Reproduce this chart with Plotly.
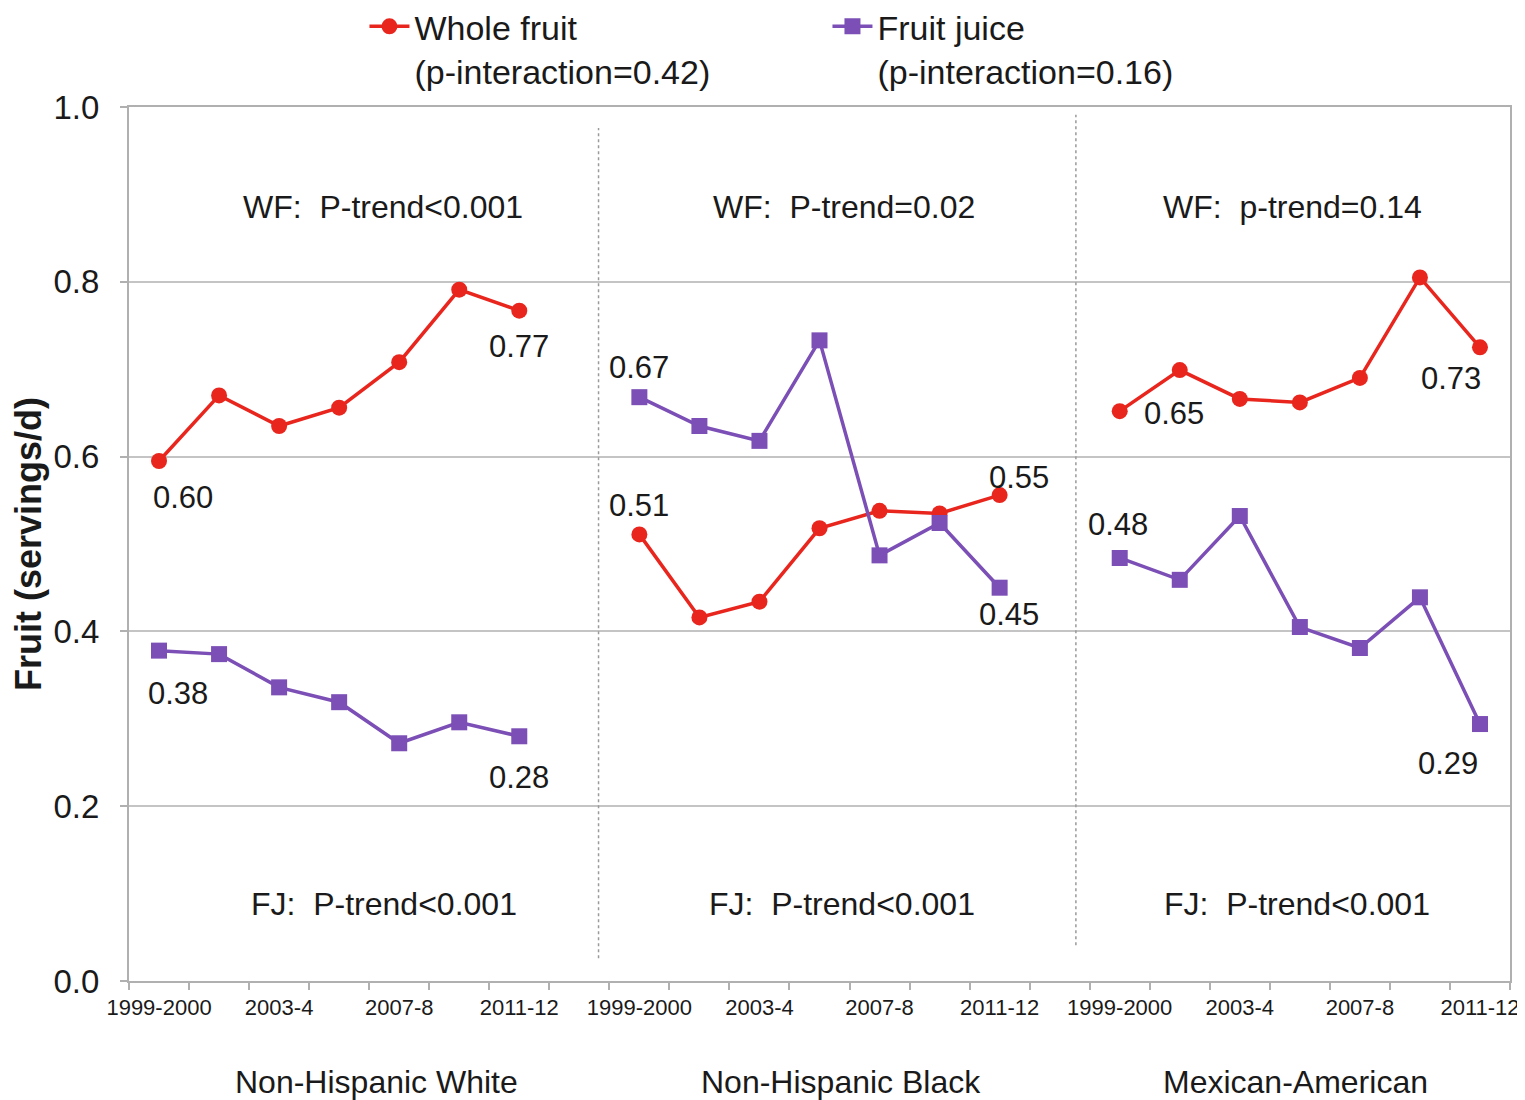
import plotly.graph_objects as go

# ---------------- data ----------------
periods = ["1999-2000", "2001-2", "2003-4", "2005-6", "2007-8", "2009-10", "2011-12"]
groups = ["Non-Hispanic White", "Non-Hispanic Black", "Mexican-American"]

whole_fruit_nhw = [0.595, 0.670, 0.635, 0.656, 0.708, 0.791, 0.767]
whole_fruit_nhb = [0.511, 0.416, 0.434, 0.518, 0.538, 0.535, 0.556]
whole_fruit_ma = [0.652, 0.699, 0.666, 0.662, 0.690, 0.805, 0.725]

fruit_juice_nhw = [0.378, 0.374, 0.336, 0.319, 0.272, 0.296, 0.280]
fruit_juice_nhb = [0.668, 0.635, 0.618, 0.733, 0.487, 0.524, 0.450]
fruit_juice_ma = [0.484, 0.459, 0.532, 0.405, 0.381, 0.439, 0.294]

whole_fruit = [whole_fruit_nhw, whole_fruit_nhb, whole_fruit_ma]
fruit_juice = [fruit_juice_nhw, fruit_juice_nhb, fruit_juice_ma]

# end-point labels (first and last value of each series, per group)
wf_labels = [("0.60", "0.77"), ("0.51", "0.55"), ("0.65", "0.73")]
fj_labels = [("0.38", "0.28"), ("0.67", "0.45"), ("0.48", "0.29")]

wf_trend = ["WF:&nbsp; P-trend&lt;0.001", "WF:&nbsp; P-trend=0.02", "WF:&nbsp; p-trend=0.14"]
fj_trend = ["FJ:&nbsp; P-trend&lt;0.001", "FJ:&nbsp; P-trend&lt;0.001", "FJ:&nbsp; P-trend&lt;0.001"]

tick_periods = ["1999-2000", "2003-4", "2007-8", "2011-12"]

# ---------------- styling ----------------
RED = "#e8261e"
PURPLE = "#7b4fb6"
GRID = "#c4c4c4"
AXIS = "#b0b0b0"
FONT = "Liberation Sans, Arial, sans-serif"
TXT = "#1a1a1a"

STEP = len(periods) + 1  # one empty slot between groups


def xpos(g, i):
    return g * STEP + i


def series_xy(values):
    xs, ys = [], []
    for g, vals in enumerate(values):
        if g > 0:
            xs.append(None)
            ys.append(None)
        for i, v in enumerate(vals):
            xs.append(xpos(g, i))
            ys.append(v)
    return xs, ys


fig = go.Figure()

x_wf, y_wf = series_xy(whole_fruit)
x_fj, y_fj = series_xy(fruit_juice)

fig.add_trace(go.Scatter(
    x=x_wf, y=y_wf, mode="lines+markers",
    name="Whole fruit<br>(p-interaction=0.42)",
    line=dict(color=RED, width=3.5),
    marker=dict(symbol="circle", size=16, color=RED),
    connectgaps=False,
))
fig.add_trace(go.Scatter(
    x=x_fj, y=y_fj, mode="lines+markers",
    name="Fruit juice<br>(p-interaction=0.16)",
    line=dict(color=PURPLE, width=3.5),
    marker=dict(symbol="square", size=16, color=PURPLE),
    connectgaps=False,
))

annotations = []
label_font = dict(family=FONT, size=31, color=TXT)
big_font = dict(family=FONT, size=32, color=TXT)

# label offsets (px) for first/last points of each series per group
wf_off = [((24, -37), (0, -36)), ((0, 29), (19, 18)), ((54, -2), (-29, -31))]
fj_off = [((19, -43), (0, -41)), ((0, 30), (9, -27)), ((-2, 33), (-32, -39))]

for g in range(len(groups)):
    for vals, labs, offs in ((whole_fruit[g], wf_labels[g], wf_off[g]),
                             (fruit_juice[g], fj_labels[g], fj_off[g])):
        for k, idx in enumerate((0, len(vals) - 1)):
            annotations.append(dict(
                x=xpos(g, idx), y=vals[idx], xref="x", yref="y",
                text=labs[k], showarrow=False, font=label_font,
                xshift=offs[k][0], yshift=offs[k][1],
            ))

# trend texts and group names
wf_trend_x = [3.73, 3.40, 2.88]
fj_trend_x = [3.75, 3.38, 2.95]
group_x = [3.63, 3.35, 2.92]
for g in range(len(groups)):
    annotations.append(dict(x=g * STEP + wf_trend_x[g], y=0.886, xref="x", yref="y",
                            text=wf_trend[g], showarrow=False, font=big_font))
    annotations.append(dict(x=g * STEP + fj_trend_x[g], y=0.088, xref="x", yref="y",
                            text=fj_trend[g], showarrow=False, font=big_font))
    annotations.append(dict(x=g * STEP + group_x[g], y=-0.1156, xref="x", yref="paper",
                            xanchor="center", yanchor="middle",
                            text=groups[g], showarrow=False, font=big_font))

# dotted separators between groups
shapes = [
    dict(type="line", xref="x", yref="y", x0=7.32, x1=7.32, y0=0.026, y1=0.976,
         line=dict(color="#9a9a9a", width=1.5, dash="dot")),
    dict(type="line", xref="x", yref="y", x0=15.27, x1=15.27, y0=0.041, y1=0.991,
         line=dict(color="#9a9a9a", width=1.5, dash="dot")),
]

tickvals = []
ticktext = []
for g in range(len(groups)):
    for p in tick_periods:
        tickvals.append(xpos(g, periods.index(p)))
        ticktext.append(p)

n_slots = len(groups) * STEP - 1
boundaries = [b - 0.5 for b in range(n_slots + 1)]

# page body has an 8px default margin, so the figure is 8px smaller
fig.update_layout(
    width=1517, height=1092,
    margin=dict(l=121, r=15, t=99, b=119, autoexpand=False),
    paper_bgcolor="white", plot_bgcolor="white",
    font=dict(family=FONT, color=TXT),
    showlegend=True,
    legend=dict(
        orientation="h", x=0.1705, xanchor="left", y=1.125, yanchor="top",
        font=dict(family=FONT, size=34, color=TXT),
        entrywidth=408, valign="top", bgcolor="rgba(0,0,0,0)",
        itemwidth=40, tracegroupgap=0,
    ),
    xaxis=dict(
        range=[-0.5, n_slots - 0.5],
        tickmode="array", tickvals=tickvals, ticktext=ticktext,
        tickfont=dict(family=FONT, size=22, color=TXT),
        ticks="", ticklabelstandoff=6,
        showgrid=False, zeroline=False, automargin=False,
        showline=True, linecolor=AXIS, linewidth=2, mirror=True,
        minor=dict(tickmode="array", tickvals=boundaries, ticks="outside",
                   ticklen=7, tickcolor=AXIS, tickwidth=2, showgrid=False),
    ),
    yaxis=dict(
        range=[0, 1.0], dtick=0.2, tick0=0, tickformat=".1f",
        tickfont=dict(family=FONT, size=33, color=TXT),
        ticks="outside", ticklen=7, tickcolor=AXIS, tickwidth=2,
        ticklabelstandoff=14, automargin=False,
        showgrid=True, gridcolor=GRID, gridwidth=2, zeroline=False,
        showline=True, linecolor=AXIS, linewidth=2, mirror=True,
        title=dict(text="<b>Fruit (servings/d)</b>", font=dict(family=FONT, size=36, color=TXT),
                   standoff=6),
    ),
    annotations=annotations,
    shapes=shapes,
)

fig.write_html("out.html")
